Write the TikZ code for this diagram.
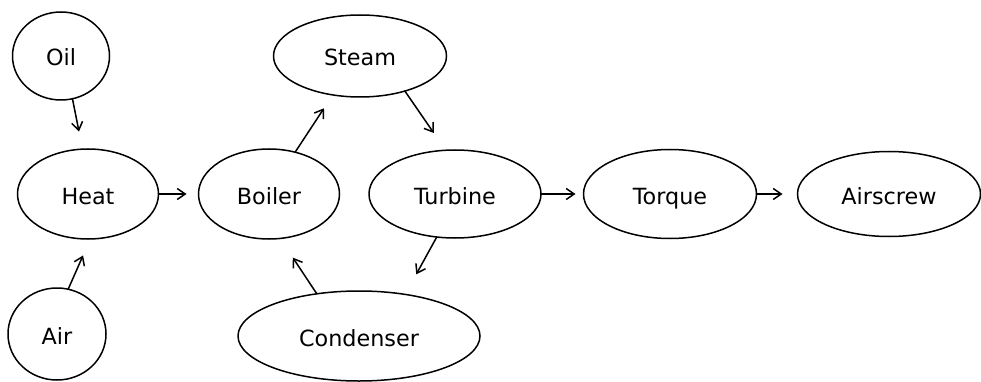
\documentclass[tikz,border=0pt]{standalone}
\usepackage{fontspec}
\setmainfont{DejaVu Sans}
\usetikzlibrary{shapes.geometric,arrows.meta}
\begin{document}
\begin{tikzpicture}[x=1pt,y=-1pt,>={Straight Barb[length=8pt,width=11pt]}, line width=1.5pt, line join=round, line cap=round,
	el/.style={ellipse, draw, inner sep=0pt, outer sep=0pt, text height=20pt, text depth=0pt, font=\fontsize{22.3}{26}\selectfont}]
			\useasboundingbox (0,0) rectangle (981,382);
			\foreach \n/\x/\y/\w/\h in {Oil/61/56/97/88, Heat/88/194/141/90, Air/57/334/98/92,
				Boiler/269/194/141/90, Steam/360/56/173/82, Turbine/455/194/172/88,
				Torque/670/194/173/89, Airscrew/889/194/183/85, Condenser/359/336/242/90}
			\node[el, minimum width=\w pt, minimum height=\h pt] (\n) at (\x,\y) {\n};
			\draw[->,shorten >=18pt] (Oil.-75) -- (Heat.97);
			\draw[->,shorten >=18pt] (Air.76) -- (Heat.-87);
			\draw[->,shorten >=12pt] (Heat.east) -- (Boiler.west);
			\draw[->,shorten >=16pt] (Boiler.58) -- (Steam.-125);
			\draw[->,shorten >=21pt] (Steam.-38) -- (Turbine.102);
			\draw[->,shorten >=23pt] (Turbine.-113) -- (Condenser.42);
			\draw[->,shorten >=23pt] (Condenser.135) -- (Boiler.-76);
			\draw[->,shorten >=8pt] (Turbine.east) -- (Torque.west);
			\draw[->,shorten >=15pt] (Torque.east) -- (Airscrew.west);
		\end{tikzpicture}
\end{document}
